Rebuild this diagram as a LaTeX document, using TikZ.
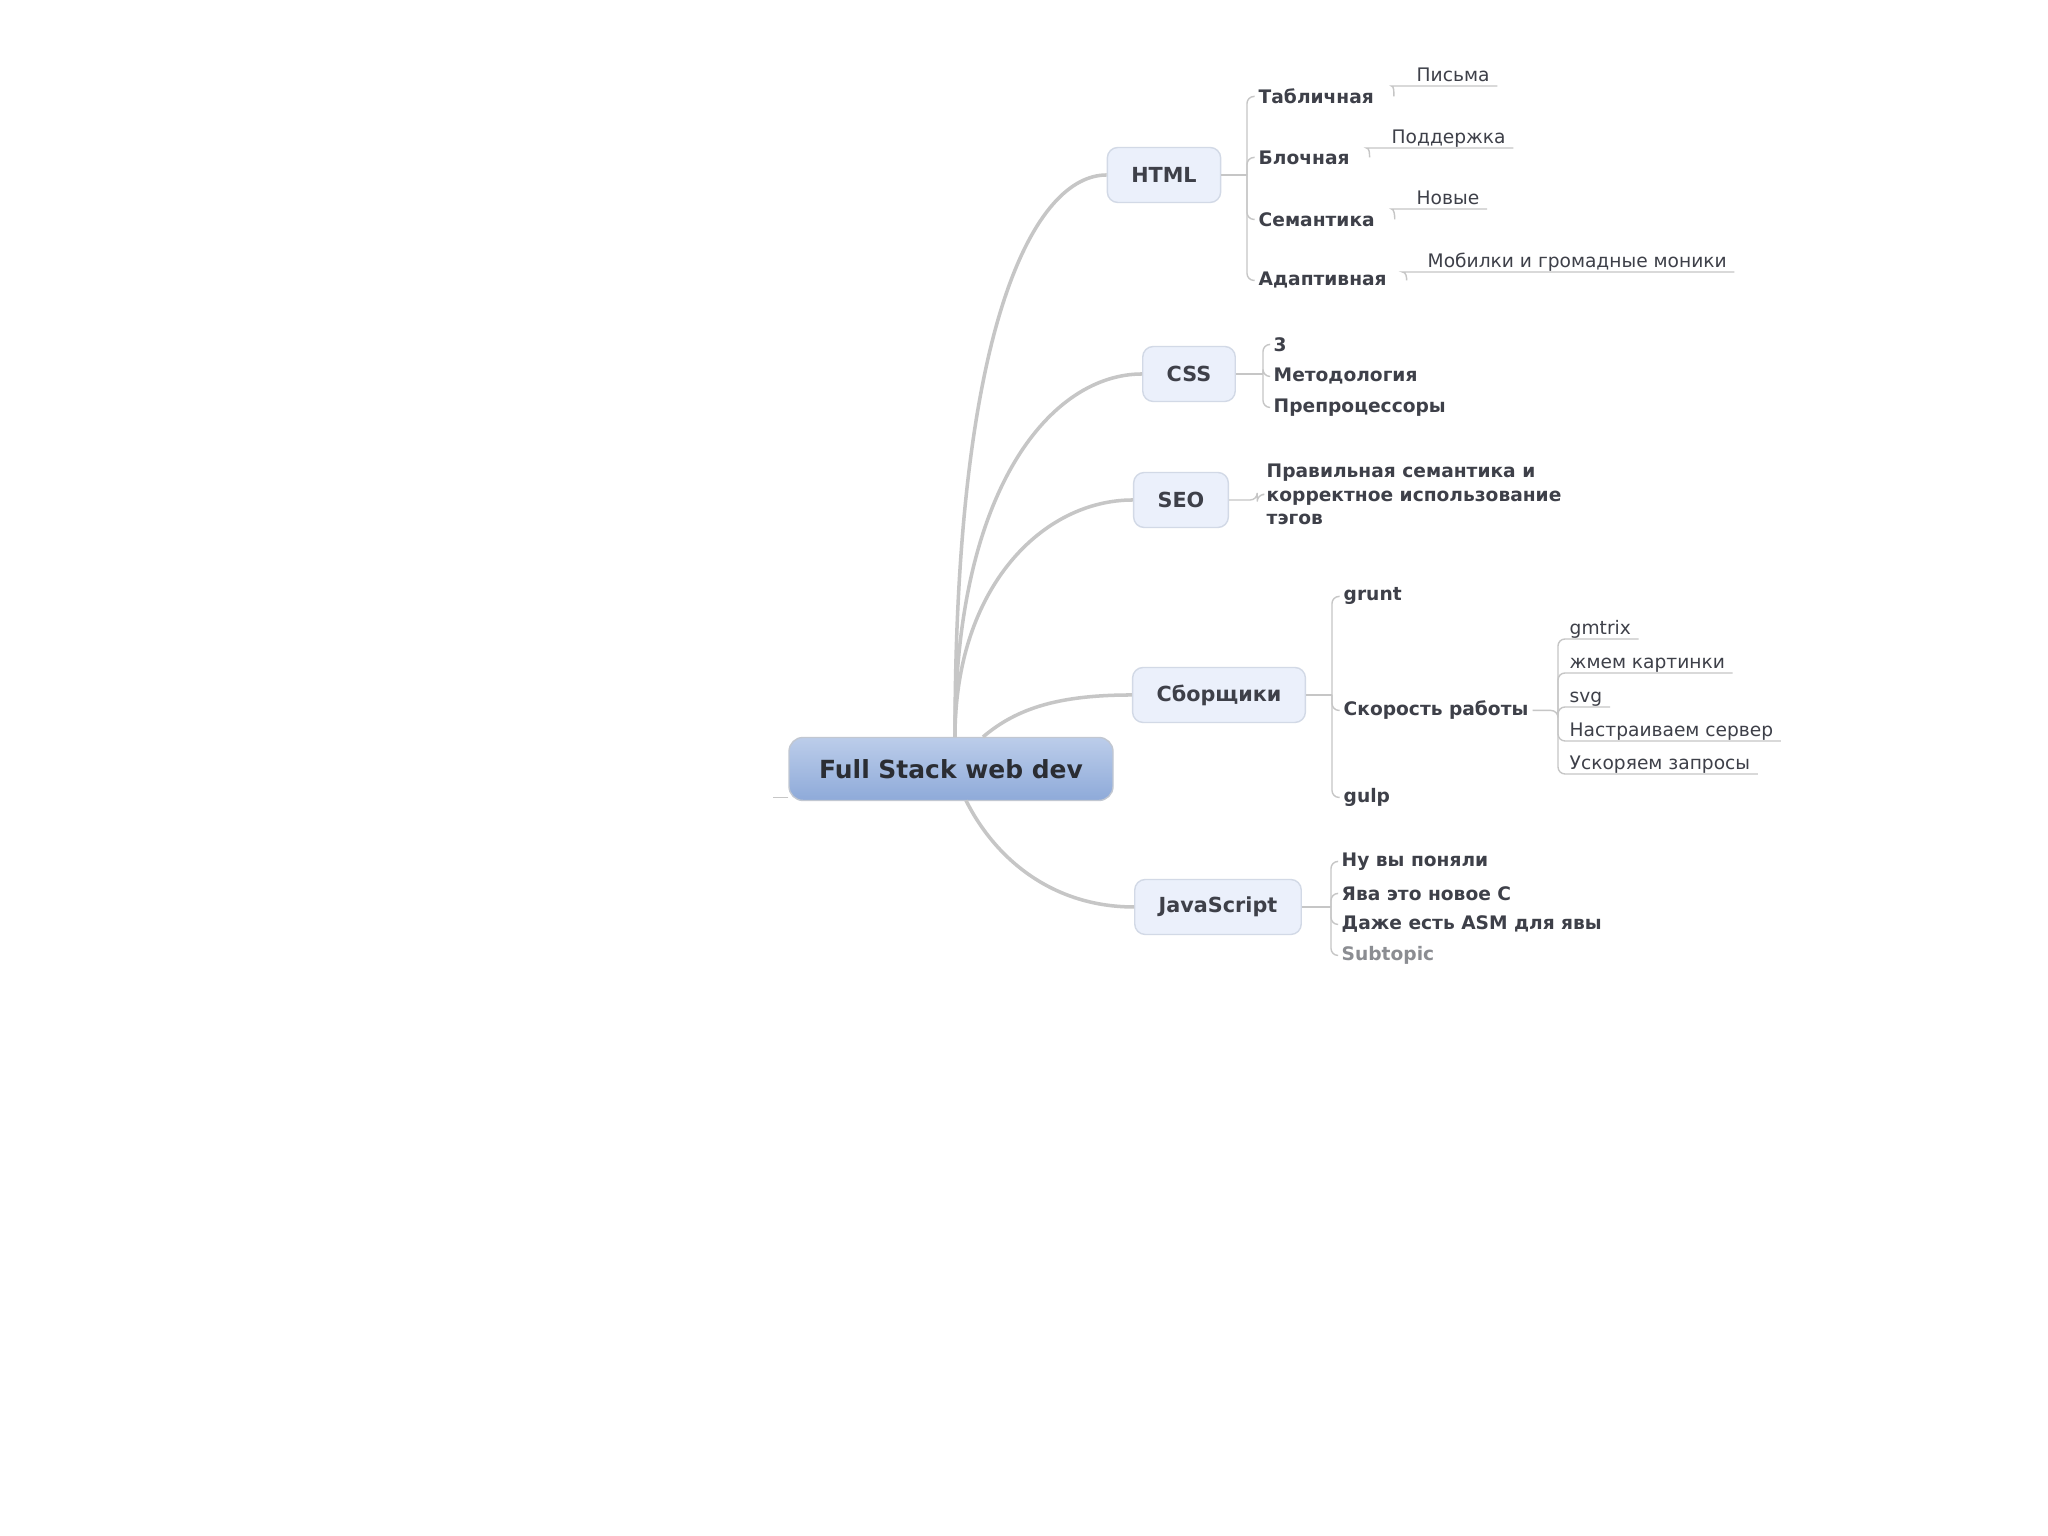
\documentclass[tikz,border=0pt]{standalone}
\usepackage{fontspec}
\setmainfont{DejaVu Sans}
\definecolor{linea}{HTML}{C6C6C6}
\definecolor{texto}{HTML}{3E4049}
\definecolor{raiz1}{HTML}{BCCDEA}
\definecolor{raiz2}{HTML}{8EAAD9}
\definecolor{caja}{HTML}{EBF0FB}
\definecolor{borde}{HTML}{D2D9E6}
\tikzset{
	raiz/.style={draw=borde!80!gray, rounded corners=4pt, top color=raiz1, bottom color=raiz2,
		minimum width=3.24cm, minimum height=0.63cm, font=\fontsize{7.1}{8}\selectfont\bfseries, text=texto!70!black},
	tema/.style={draw=borde, fill=caja, rounded corners=3pt, inner xsep=0.24cm, minimum height=0.55cm,
		font=\fontsize{5.9}{7}\selectfont\bfseries, text=texto},
	sub/.style={anchor=west, yshift=-0.7pt, inner xsep=1pt, inner ysep=1pt, font=\fontsize{5.3}{6.6}\selectfont\bfseries, text=texto},
	hoja/.style={anchor=south west, inner xsep=2pt, inner ysep=0.6pt, text height=4pt, text depth=0.6pt,
		font=\fontsize{5.3}{6.5}\selectfont, text=texto},
	curva/.style={draw=linea, line width=1pt},
	rama/.style={draw=linea, line width=0.4pt, rounded corners=2pt},
}
% hook from a topic to the underline of its note
\newcommand{\gancho}[2]{
	\draw [rama] ([xshift=4.5pt]#1.east) to[out=90,in=180] ([xshift=-3pt]#2.south west) -- (#2.south east);
	}

\begin{document}
\begin{tikzpicture}
	\useasboundingbox [fill=white] (0,0) rectangle (20.48,15.36);
	% centre and main topics
	\node [raiz] (root) at (9.51,7.67) {Full Stack web dev};
	\node [tema] (html) at (11.64,13.61) {HTML};
	\node [tema] (css) at (11.89,11.62) {CSS};
	\node [tema] (seo) at (11.81,10.36) {SEO};
	\node [tema] (sbor) at (12.19,8.41) {Сборщики};
	\node [tema] (js) at (12.18,6.29) {JavaScript};
	\coordinate (hub) at (9.55,7.99);
	\draw [curva] (hub) .. controls +(0,4.2) and +(-0.7,0) .. (html.west);
	\draw [curva] (hub) .. controls +(0,2.5) and +(-0.9,0) .. (css.west);
	\draw [curva] (hub) .. controls +(0,1.5) and +(-0.9,0) .. (seo.west);
	\draw [curva] (9.83,7.99) .. controls +(0.35,0.3) and +(-0.7,0) .. (sbor.west);
	\draw [curva] (9.66,7.355) .. controls +(0.3,-0.6) and +(-0.8,0) .. (js.west);
	\draw [rama] ([yshift=1pt]root.south west) -- ++(-0.15,0);
	% HTML
	\node [sub] (tab) at (12.545,14.42) {Табличная};
	\node [sub] (blo) at (12.545,13.81) {Блочная};
	\node [sub] (sem) at (12.545,13.19) {Семантика};
	\node [sub] (ada) at (12.545,12.58) {Адаптивная};
	\draw [rama] (html.east) -- (12.47,13.61) coordinate (htmlb);
	\foreach \h in {tab,blo,sem,ada}
		\draw [rama] (htmlb) |- (\h.west);
	\node [hoja] (pis) at (14.09,14.50) {Письма};
	\node [hoja] (pod) at (13.84,13.88) {Поддержка};
	\node [hoja] (nov) at (14.09,13.27) {Новые};
	\node [hoja] (mob) at (14.20,12.64) {Мобилки и громадные моники};
	\gancho{tab}{pis}
	\gancho{blo}{pod}
	\gancho{sem}{nov}
	\gancho{ada}{mob}
	% CSS
	\node [sub] (tri) at (12.695,11.94) {3};
	\node [sub] (met) at (12.695,11.62) {Методология};
	\node [sub] (pre) at (12.695,11.31) {Препроцессоры};
	\draw [rama] (css.east) -- (12.63,11.62) coordinate (cssb);
	\foreach \h in {tri,met,pre}
		\draw [rama] (cssb) |- (\h.west);
	% SEO
	\node [sub, align=left] (tag) at (12.625,10.44) {Правильная семантика и\\корректное использование\\тэгов};
	\draw [rama] (seo.east) -| ([xshift=-1.5pt]tag.west) -- (tag.west);
	% Сборщики
	\node [sub] (gru) at (13.395,9.42) {grunt};
	\node [sub] (sko) at (13.395,8.28) {Скорость работы};
	\node [sub] (gul) at (13.395,7.41) {gulp};
	\draw [rama] (sbor.east) -- (13.32,8.41) coordinate (sborb);
	\foreach \h in {gru,sko,gul}
		\draw [rama] (sborb) |- (\h.west);
	\node [hoja] (gmt) at (15.62,8.97) {gmtrix};
	\node [hoja] (zhm) at (15.62,8.63) {жмем картинки};
	\node [hoja] (svg) at (15.62,8.29) {svg};
	\node [hoja] (nas) at (15.62,7.95) {Настраиваем сервер};
	\node [hoja] (usk) at (15.62,7.62) {Ускоряем запросы};
	\coordinate (skob) at (15.58,8.255);
	\draw [rama] (sko.east) -- (sko.east -| skob) -- (skob);
	\foreach \h in {gmt,zhm,svg,nas,usk}
		\draw [rama] (skob) |- (\h.south east);
	% JavaScript
	\node [sub] (nuv) at (13.375,6.77) {Ну вы поняли};
	\node [sub] (yav) at (13.375,6.45) {Ява это новое С};
	\node [sub] (asm) at (13.375,6.14) {Даже есть ASM для явы};
	\node [sub, text=texto!60] (subt) at (13.375,5.83) {Subtopic};
	\draw [rama] (js.east) -- (13.31,6.29) coordinate (jsb);
	\foreach \h in {nuv,yav,asm,subt}
		\draw [rama] (jsb) |- (\h.west);
\end{tikzpicture}
\end{document}
